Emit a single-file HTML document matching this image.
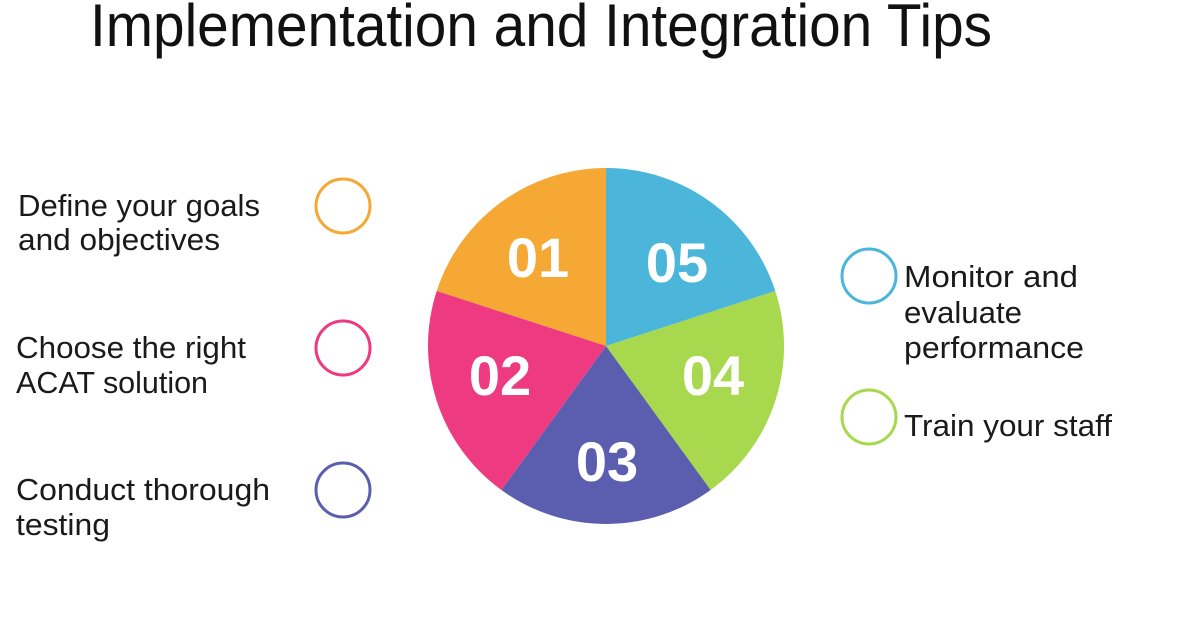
<!DOCTYPE html>
<html><head><meta charset="utf-8"><style>html,body{margin:0;padding:0;background:#fff}</style></head>
<body>
<svg width="1200" height="626" viewBox="0 0 1200 626" xmlns="http://www.w3.org/2000/svg">
<rect width="1200" height="626" fill="#fff"/>
<text x="90" y="46" font-family="Liberation Sans, sans-serif" font-size="60" fill="#111" textLength="902" lengthAdjust="spacingAndGlyphs">Implementation and Integration Tips</text>
<g transform="translate(606,346)">
<path d="M0,0 L-169.3,-55 A178,178 0 0 1 0,-178 Z" fill="#F5A833"/>
<path d="M0,0 L0,-178 A178,178 0 0 1 169.3,-55 Z" fill="#4BB6D9"/>
<path d="M0,0 L169.3,-55 A178,178 0 0 1 104.6,144 Z" fill="#A8D84E"/>
<path d="M0,0 L104.6,144 A178,178 0 0 1 -104.6,144 Z" fill="#5B5EAE"/>
<path d="M0,0 L-104.6,144 A178,178 0 0 1 -169.3,-55 Z" fill="#EE3A80"/>
</g>
<g font-family="Liberation Sans, sans-serif" font-weight="bold" font-size="56" fill="#fff" text-anchor="middle">
<text x="538" y="277">01</text>
<text x="677" y="282">05</text>
<text x="500" y="395">02</text>
<text x="713" y="395">04</text>
<text x="607" y="481">03</text>
</g>
<g fill="none" stroke-width="3">
<circle cx="343" cy="206" r="27" stroke="#F5A833"/>
<circle cx="343" cy="348" r="27" stroke="#EE3A80"/>
<circle cx="343" cy="490" r="27" stroke="#5B5EAE"/>
<circle cx="869" cy="276" r="27" stroke="#4BB6D9"/>
<circle cx="869" cy="417" r="27" stroke="#A8D84E"/>
</g>
<g font-family="Liberation Sans, sans-serif" font-size="31" fill="#1a1a1a">
<text x="18" y="216" textLength="242" lengthAdjust="spacingAndGlyphs">Define your goals</text>
<text x="18" y="250" textLength="202" lengthAdjust="spacingAndGlyphs">and objectives</text>
<text x="16" y="358" textLength="230" lengthAdjust="spacingAndGlyphs">Choose the right</text>
<text x="16" y="393" textLength="192" lengthAdjust="spacingAndGlyphs">ACAT solution</text>
<text x="16" y="500" textLength="254" lengthAdjust="spacingAndGlyphs">Conduct thorough</text>
<text x="16" y="535" textLength="94" lengthAdjust="spacingAndGlyphs">testing</text>
<text x="904" y="287" textLength="174" lengthAdjust="spacingAndGlyphs">Monitor and</text>
<text x="904" y="323" textLength="118" lengthAdjust="spacingAndGlyphs">evaluate</text>
<text x="904" y="358" textLength="180" lengthAdjust="spacingAndGlyphs">performance</text>
<text x="904" y="436" textLength="208" lengthAdjust="spacingAndGlyphs">Train your staff</text>
</g>
</svg>
</body></html>
